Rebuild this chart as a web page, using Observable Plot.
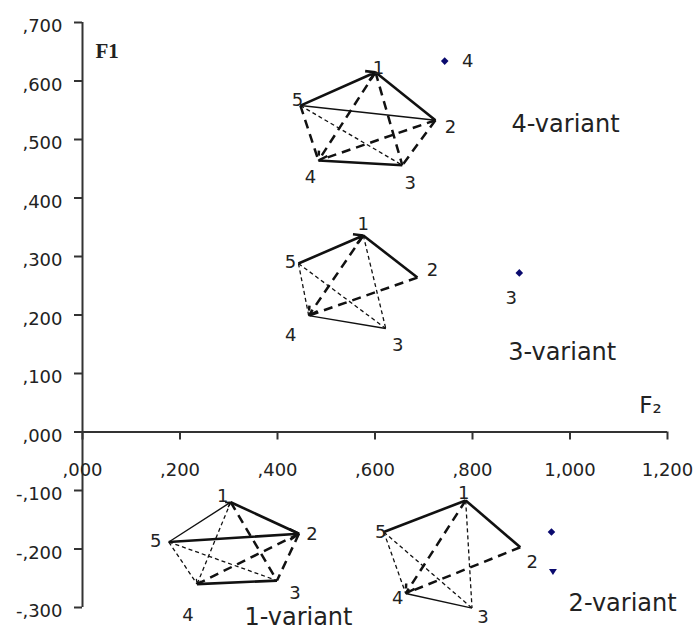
<!DOCTYPE html>
<html>
<head>
<meta charset="utf-8">
<script src="https://cdn.jsdelivr.net/npm/d3@7"></script>
<script src="https://cdn.jsdelivr.net/npm/@observablehq/plot@0.6"></script>
<style>
  html, body { margin: 0; padding: 0; background: #fff; }
</style>
</head>
<body>
<div id="chart"></div>
<script>
// Axis ticks and their printed labels (decimal comma style)
const xTicks = [0, 0.2, 0.4, 0.6, 0.8, 1.0, 1.2];
const xTickLabels = [",000", ",200", ",400", ",600", ",800", "1,000", "1,200"];
const yTicks = [0.7, 0.6, 0.5, 0.4, 0.3, 0.2, 0.1, 0, -0.1, -0.2, -0.3];
const yTickLabels = [",700", ",600", ",500", ",400", ",300", ",200", ",100", ",000", "-,100", "-,200", "-,300"];

// Factor scores (F2, F1) of the five elements in each variant
const nodeIds = [1, 2, 3, 4, 5];
const v1F2 = [0.304, 0.444, 0.399, 0.235, 0.177];
const v1F1 = [-0.120, -0.174, -0.254, -0.260, -0.188];
const v2F2 = [0.786, 0.898, 0.799, 0.663, 0.618];
const v2F1 = [-0.117, -0.197, -0.301, -0.276, -0.171];
const v3F2 = [0.576, 0.687, 0.622, 0.464, 0.443];
const v3F1 = [0.336, 0.264, 0.177, 0.199, 0.288];
const v4F2 = [0.601, 0.724, 0.656, 0.484, 0.447];
const v4F1 = [0.615, 0.533, 0.456, 0.464, 0.558];

// Links between elements: [from, to, link type, directed]
const links1 = [[5,1,"weak",1],[1,2,"strong",0],[5,2,"strong",1],[4,3,"strong",0],
  [1,4,"weak-indirect",1],[1,3,"strong-indirect",0],[5,4,"weak-indirect",0],
  [5,3,"weak-indirect",0],[2,4,"strong-indirect",0],[2,3,"strong-indirect",0]];
const links2 = [[5,1,"strong",0],[1,2,"strong",0],[4,3,"weak",0],
  [1,4,"strong-indirect",1],[1,3,"weak-indirect",0],[5,4,"weak-indirect",0],
  [5,3,"weak-indirect",0],[2,4,"strong-indirect",0]];
const links3 = [[5,1,"strong",1],[1,2,"strong",0],[4,3,"weak",0],
  [1,4,"strong-indirect",1],[1,3,"weak-indirect",0],[5,4,"weak-indirect",0],
  [5,3,"weak-indirect",0],[2,4,"strong-indirect",0]];
const links4 = [[5,1,"strong",1],[1,2,"strong",0],[5,2,"weak",1],[4,3,"strong",0],
  [1,4,"strong-indirect",1],[1,3,"strong-indirect",0],[5,4,"strong-indirect",0],
  [5,3,"weak-indirect",0],[2,4,"strong-indirect",0],[2,3,"strong-indirect",0]];

// Separate summary points
const extraF2 = [0.743, 0.896, 0.962, 0.965];
const extraF1 = [0.634, 0.272, -0.171, -0.238];
const extraLabels = ["4", "3", "", ""];

// Variant captions
const variantNames = ["1-variant", "2-variant", "3-variant", "4-variant"];
const variantF2 = [0.443, 1.108, 0.984, 0.991];
const variantF1 = [-0.316, -0.293, 0.137, 0.526];

// ---- build tables ----
const variantData = [
  {name: "1-variant", xs: v1F2, ys: v1F1, links: links1},
  {name: "2-variant", xs: v2F2, ys: v2F1, links: links2},
  {name: "3-variant", xs: v3F2, ys: v3F1, links: links3},
  {name: "4-variant", xs: v4F2, ys: v4F1, links: links4}
];

// where each element number sits relative to its vertex (px)
const labelShift = {
  "1-variant": {1: [-8, -6], 2: [13, 0], 3: [18, 13], 4: [-9, 31], 5: [-13, -1]},
  "2-variant": {1: [-2, -7], 2: [12, 15], 3: [11, 9], 4: [-8, 5], 5: [-3, 0]},
  "3-variant": {1: [0, -11], 2: [15, -7], 3: [12, 17], 4: [-18, 20], 5: [-8, -1]},
  "4-variant": {1: [3, -4], 2: [15, 7], 3: [8, 18], 4: [-8, 17], 5: [-3, -5]}
};

const nodes = [];
const links = [];
for (const v of variantData) {
  const pos = new Map(nodeIds.map((id, i) => [id, [v.xs[i], v.ys[i]]]));
  nodeIds.forEach((id, i) => {
    const [dx, dy] = labelShift[v.name][id];
    nodes.push({variant: v.name, id, x: v.xs[i], y: v.ys[i], dx, dy});
  });
  for (const [a, b, type, directed] of v.links) {
    const [x1, y1] = pos.get(a), [x2, y2] = pos.get(b);
    links.push({variant: v.name, a, b, type, directed: !!directed, x1, y1, x2, y2});
  }
}
const extras = extraF2.map((x, i) => ({x, y: extraF1[i], label: extraLabels[i], i}));
const captions = variantNames.map((name, i) => ({name, x: variantF2[i], y: variantF1[i]}));

const linkStyle = {
  "strong": {strokeWidth: 2.6, strokeDasharray: null},
  "weak": {strokeWidth: 1.4, strokeDasharray: null},
  "strong-indirect": {strokeWidth: 2.5, strokeDasharray: "9,6"},
  "weak-indirect": {strokeWidth: 1.3, strokeDasharray: "4,3"}
};

const linkMarks = [];
for (const [type, st] of Object.entries(linkStyle)) {
  const base = {x1: "x1", y1: "y1", x2: "x2", y2: "y2", stroke: "#111",
    strokeWidth: st.strokeWidth, strokeLinecap: "butt"};
  if (st.strokeDasharray) base.strokeDasharray = st.strokeDasharray;
  linkMarks.push(Plot.link(links.filter(d => d.type === type && !d.directed), base));
  linkMarks.push(Plot.arrow(links.filter(d => d.type === type && d.directed),
    {...base, headLength: 6, headAngle: 60}));
}

// small downward triangle marker
const triangleDown = {
  draw(context, size) {
    const s = Math.sqrt(size) * 0.62;
    context.moveTo(-s, -s * 0.55);
    context.lineTo(s, -s * 0.55);
    context.lineTo(0, s * 0.95);
    context.closePath();
  }
};

const axisColor = "#333";
const textColor = "#222";
const tickFont = "DejaVu Sans";

const chart = Plot.plot({
  width: 697,
  height: 630,
  marginLeft: 82,
  marginRight: 30,
  marginTop: 22,
  marginBottom: 23,
  x: {domain: [0, 1.2], axis: null},
  y: {domain: [-0.3, 0.7], axis: null},
  style: {background: "#fff"},
  marks: [
    // axes
    Plot.ruleX([0], {y1: () => -0.3, y2: () => 0.7, stroke: axisColor, strokeWidth: 2}),
    Plot.ruleY([0], {x1: () => 0, x2: () => 1.2, stroke: axisColor, strokeWidth: 2}),
    Plot.ruleX(xTicks, {x: d => d, y1: () => 0, y2: () => 0, insetBottom: -8, stroke: axisColor, strokeWidth: 2}),
    Plot.ruleY(yTicks, {y: d => d, x1: () => 0, x2: () => 0, insetLeft: -8, stroke: axisColor, strokeWidth: 2}),
    Plot.text(xTicks, {x: d => d, y: () => 0, text: (d, i) => xTickLabels[i], dy: 38,
      fontFamily: tickFont, fontSize: 18, fill: textColor}),
    Plot.text(yTicks, {x: () => 0, y: d => d, text: (d, i) => yTickLabels[i], dx: -20, dy: 4,
      textAnchor: "end", fontFamily: tickFont, fontSize: 18, fill: textColor}),
    Plot.text(["F1"], {frameAnchor: "top-left", text: d => d, dx: 13, dy: 21, textAnchor: "start",
      fontFamily: "Liberation Serif", fontWeight: "bold", fontSize: 21, fill: textColor}),
    Plot.text(["F\u2082"], {x: () => 1.2, y: () => 0, text: d => d, dx: -17, dy: -26,
      fontFamily: "DejaVu Sans", fontSize: 23, fill: textColor}),

    // links between elements
    ...linkMarks,

    // element numbers
    Plot.text(nodes, {x: "x", y: "y", text: "id",
      fontFamily: "DejaVu Sans", fontSize: 18, fill: textColor,
      render: (index, scales, values, dims, context, next) => {
        const g = next(index, scales, values, dims, context);
        d3.select(g).selectAll("text").each(function(_, j) {
          const d = nodes[index[j]];
          d3.select(this).attr("transform", `translate(${values.x[index[j]] + d.dx},${values.y[index[j]] + d.dy})`);
        });
        return g;
      }}),

    // summary points
    Plot.dot(extras, {x: "x", y: "y", filter: d => d.i < 3, symbol: "diamond2", r: 3.4, fill: "#0a0a6e"}),
    Plot.dot(extras, {x: "x", y: "y", filter: d => d.i === 3, symbol: triangleDown, r: 3.6, fill: "#0a0a6e"}),
    Plot.text(extras, {x: "x", y: "y", text: "label", filter: d => d.label && d.i === 0, dx: 23, dy: 0,
      fontFamily: "DejaVu Sans", fontSize: 18, fill: textColor}),
    Plot.text(extras, {x: "x", y: "y", text: "label", filter: d => d.label && d.i === 1, dx: -8, dy: 25,
      fontFamily: "DejaVu Sans", fontSize: 18, fill: textColor}),

    // variant captions
    Plot.text(captions, {x: "x", y: "y", text: "name", fontFamily: "DejaVu Sans", fontSize: 24, fill: textColor})
  ]
});

document.getElementById("chart").appendChild(chart);
</script>
</body>
</html>
